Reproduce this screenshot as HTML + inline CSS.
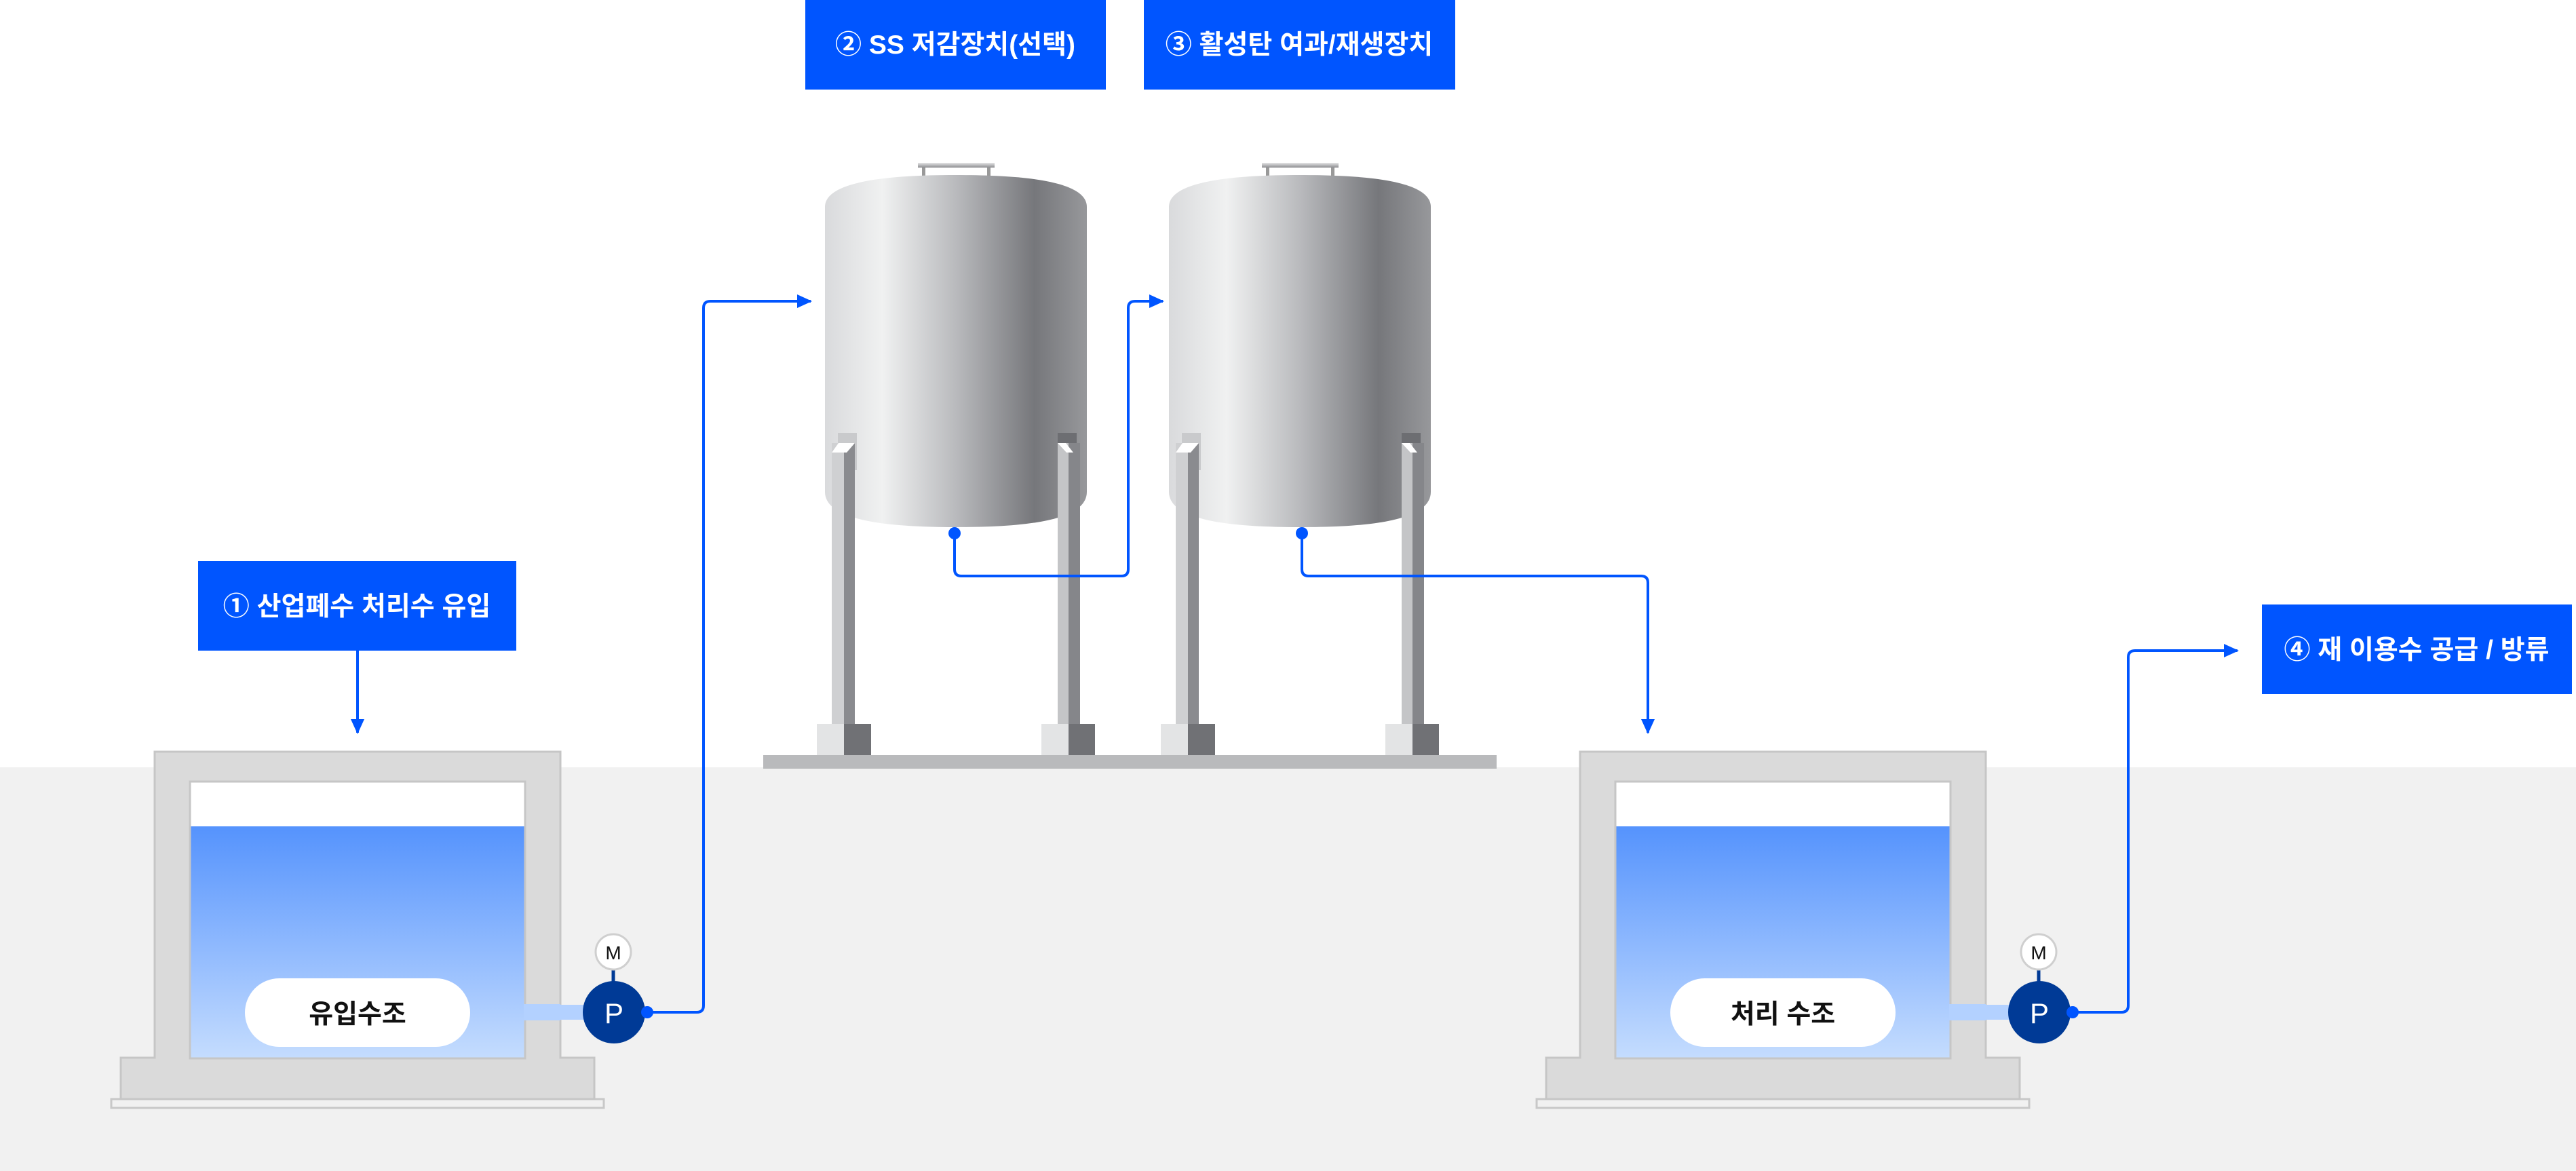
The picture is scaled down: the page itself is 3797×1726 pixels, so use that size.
<!DOCTYPE html>
<html><head><meta charset="utf-8"><style>
html,body{margin:0;padding:0;background:#fff}
svg{display:block}
text{font-family:"Liberation Sans","Noto Sans CJK KR",sans-serif}
</style></head><body>
<svg width="3797" height="1726" viewBox="0 0 3797 1726" xmlns="http://www.w3.org/2000/svg">
<defs>
<linearGradient id="tk" x1="0" x2="1" y1="0" y2="0">
<stop offset="0" stop-color="#d9dadc"/><stop offset="0.22" stop-color="#f0f1f1"/><stop offset="0.5" stop-color="#b9babd"/><stop offset="0.8" stop-color="#76777b"/><stop offset="1" stop-color="#97989b"/>
</linearGradient>
<linearGradient id="water" x1="0" x2="0" y1="0" y2="1">
<stop offset="0" stop-color="#5593fd"/><stop offset="1" stop-color="#c4dcfe"/>
</linearGradient>
<linearGradient id="hatch" x1="0" x2="0" y1="0" y2="1">
<stop offset="0" stop-color="#e5e5e6"/><stop offset="1" stop-color="#8d8e91"/>
</linearGradient>
<marker id="ah" markerWidth="22" markerHeight="22" refX="20" refY="11" orient="auto" markerUnits="userSpaceOnUse" viewBox="0 0 22 22">
<path d="M0,1 L22,11 L0,21 Z" fill="#0055ff"/>
</marker>
<g id="tank">
<rect x="137" y="-18" width="113" height="7" fill="url(#hatch)"/>
<rect x="143" y="-11" width="5" height="12" fill="#999"/>
<rect x="239" y="-11" width="5" height="12" fill="#999"/>
<path d="M0,47 C0,7 104,0 193,0 C284,0 386,7 386,47 L386,467 C386,512 284,519 193,519 C104,519 0,512 0,467 Z" fill="url(#tk)"/>
<rect x="19" y="380" width="28" height="55" fill="#c9cacc"/>
<rect x="343" y="380" width="28" height="55" fill="#6d6e72"/>
<rect x="10" y="395" width="18" height="414" fill="#cfd0d2"/><rect x="28" y="395" width="16" height="414" fill="#8a8b8f"/>
<path d="M10,409 L20,395 L44,395 L32,409 Z" fill="#fff"/>
<rect x="343" y="395" width="16" height="414" fill="#c4c5c7"/><rect x="359" y="395" width="17" height="414" fill="#85868a"/>
<path d="M343,395 L355,395 L366,409 L356,409 Z" fill="#fff"/>
<rect x="-12" y="809" width="40" height="46" fill="#e3e4e5"/><rect x="28" y="809" width="40" height="46" fill="#707175"/>
<rect x="319" y="809" width="40" height="46" fill="#e3e4e5"/><rect x="359" y="809" width="39" height="46" fill="#707175"/>
</g>
<g id="basin">
<rect x="164" y="1620" width="726" height="13" fill="#f1f1f1" stroke="#c8c8c8" stroke-width="3"/>
<path d="M228,1108 L826,1108 L826,1559 L876,1559 L876,1620 L178,1620 L178,1559 L228,1559 Z" fill="#dadada" stroke="#c6c6c6" stroke-width="3"/>
<rect x="280" y="1152" width="494" height="408" fill="#fff" stroke="#c6c6c6" stroke-width="3"/>
<rect x="281.5" y="1218" width="491" height="340.5" fill="url(#water)"/>
<rect x="773" y="1481" width="90" height="22" fill="#b3d1ff"/>
<rect x="772" y="1480" width="54" height="24" fill="#b3d1ff"/>
<line x1="904" y1="1420" x2="904" y2="1455" stroke="#003a96" stroke-width="5"/>
<circle cx="904" cy="1403" r="26" fill="#fff" stroke="#cfcfcf" stroke-width="3"/>
<text x="904" y="1414" font-size="28" text-anchor="middle" fill="#111">M</text>
<circle cx="905" cy="1492" r="46" fill="#003a96"/>
<text x="905" y="1508" font-size="42" text-anchor="middle" fill="#fff">P</text>
<rect x="361" y="1442" width="332" height="101" rx="50.5" fill="#fff"/>
</g>
</defs>
<rect x="0" y="1131" width="3797" height="595" fill="#f1f1f1"/>
<rect x="292" y="827" width="469" height="132" fill="#0055ff"/>
<text x="526" y="907" font-size="39" font-weight="bold" fill="#fff" text-anchor="middle">① 산업폐수 처리수 유입</text>
<rect x="1187" y="0" width="443" height="132" fill="#0055ff"/>
<text x="1408" y="79" font-size="39" font-weight="bold" fill="#fff" text-anchor="middle">② SS 저감장치(선택)</text>
<rect x="1686" y="0" width="459" height="132" fill="#0055ff"/>
<text x="1915" y="79" font-size="39" font-weight="bold" fill="#fff" text-anchor="middle">③ 활성탄 여과/재생장치</text>
<rect x="3334" y="891" width="457" height="132" fill="#0055ff"/>
<text x="3562" y="971" font-size="39" font-weight="bold" fill="#fff" text-anchor="middle">④ 재 이용수 공급 / 방류</text>
<rect x="1125" y="1113" width="1081" height="20" fill="#b9babc"/>
<use href="#tank" x="1216" y="258"/>
<use href="#tank" x="1723" y="258"/>
<use href="#basin"/>
<use href="#basin" x="2101"/>
<text x="527" y="1508" font-size="39" font-weight="bold" text-anchor="middle" fill="#111">유입수조</text>
<text x="2628" y="1508" font-size="39" font-weight="bold" text-anchor="middle" fill="#111">처리 수조</text>
<g fill="none" stroke="#0055ff" stroke-width="4">
<path d="M527,959 L527,1080" marker-end="url(#ah)"/>
<path d="M954,1492 L1027,1492 Q1037,1492 1037,1482 L1037,454 Q1037,444 1047,444 L1195,444" marker-end="url(#ah)"/>
<path d="M1407,786 L1407,839 Q1407,849 1417,849 L1653,849 Q1663,849 1663,839 L1663,454 Q1663,444 1673,444 L1714,444" marker-end="url(#ah)"/>
<path d="M1919,786 L1919,839 Q1919,849 1929,849 L2419,849 Q2429,849 2429,859 L2429,1080" marker-end="url(#ah)"/>
<path d="M3055,1492 L3127,1492 Q3137,1492 3137,1482 L3137,969 Q3137,959 3147,959 L3298,959" marker-end="url(#ah)"/>
</g>
<g fill="#0055ff">
<circle cx="1407" cy="786" r="9"/><circle cx="1919" cy="786" r="9"/>
<circle cx="954" cy="1492" r="9"/><circle cx="3055" cy="1492" r="9"/>
</g>
</svg>
</body></html>
